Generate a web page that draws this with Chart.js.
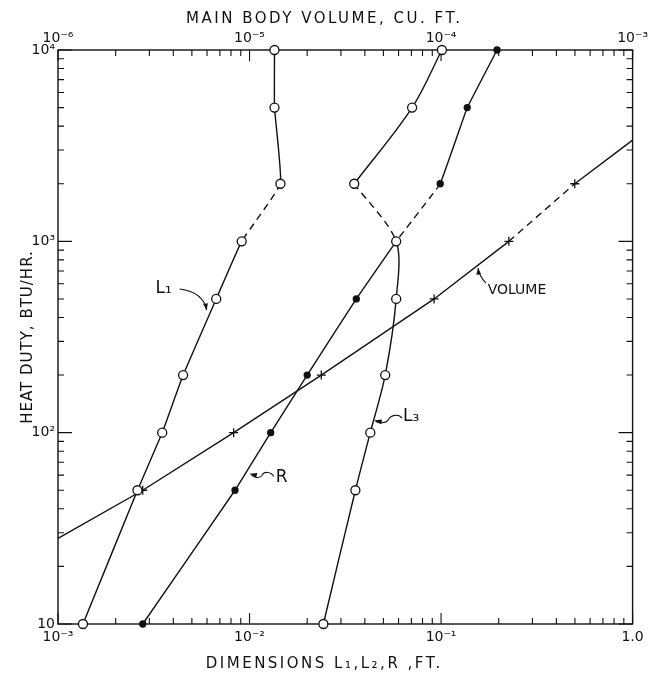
<!DOCTYPE html>
<html>
<head>
<meta charset="utf-8">
<script src="https://cdn.jsdelivr.net/npm/chart.js@4.4.0/dist/chart.umd.min.js"></script>
<style>
    html, body { margin: 0; padding: 0; background: #fff; }
    #wrap { width: 651px; height: 676px; }
</style>
</head>
<body>
<div id="wrap"><canvas id="heatChart"></canvas></div>
<script>
// heat duty levels (BTU/hr) that the dimension curves were computed at
const dutyLevels = [10000, 5000, 2000, 1000, 500, 200, 100, 50, 10];
const l1Dim = [0.0135, 0.0135, 0.0145, 0.0091, 0.0067, 0.0045, 0.0035, 0.0026, 0.00135];
const rDim = [0.196, 0.137, 0.099, 0.0583, 0.0361, 0.0200, 0.0129, 0.0084, 0.00277];
// upper branch (L2) ends at 2000; L3 starts from that same point and runs down
const l2Duty = [10000, 5000, 2000];
const l2Dim = [0.101, 0.0706, 0.0352];
const l3Duty = [2000, 1000, 500, 200, 100, 50, 10];
const l3Dim = [0.0352, 0.0583, 0.0583, 0.0511, 0.0427, 0.0357, 0.0243];
// volume is read on the top axis; first/last entries = where the line meets the frame
const volDuty = [28, 50, 100, 200, 500, 1000, 2000, 3380];
const volCuFt = [1e-6, 2.77e-6, 8.26e-6, 2.37e-5, 9.2e-5, 2.26e-4, 4.99e-4, 1e-3];

const yTicks = [10, 100, 1000, 10000];
const yTickLabels = ['10', '10²', '10³', '10⁴'];
const xTicks = [0.001, 0.01, 0.1, 1];
const xTickLabels = ['10⁻³', '10⁻²', '10⁻¹', '1.0'];
const x2Ticks = [1e-6, 1e-5, 1e-4, 1e-3];
const x2TickLabels = ['10⁻⁶', '10⁻⁵', '10⁻⁴', '10⁻³'];

const INK = '#111';
const tickFont = { family: 'DejaVu Sans', size: 14 };

// dashed piece of a curve between two duty levels
function dashedBetween(a, b) {
    return ctx => {
        const y0 = ctx.p0.parsed.y, y1 = ctx.p1.parsed.y;
        return ((y0 === a && y1 === b) || (y0 === b && y1 === a)) ? [7, 5] : undefined;
    };
}

function logSteps(min, max) {
    const out = [];
    for (let e = Math.round(Math.log10(min)); e < Math.round(Math.log10(max)); e++) {
        for (let k = 1; k < 10; k++) out.push({ v: k * Math.pow(10, e), major: k === 1 });
    }
    out.push({ v: max, major: true });
    return out;
}

// frame + inward log ticks on all four sides
const frameTicks = {
    id: 'frameTicks',
    beforeDatasetsDraw(chart) {
        const { ctx, chartArea: a, scales } = chart;
        ctx.save();
        ctx.strokeStyle = INK;
        ctx.lineWidth = 1.4;
        ctx.strokeRect(a.left, a.top, a.right - a.left, a.bottom - a.top);
        ctx.lineWidth = 1.1;
        ctx.beginPath();
        logSteps(10, 10000).forEach(t => {
            const py = scales.y.getPixelForValue(t.v);
            const len = t.major ? 14 : 6;
            ctx.moveTo(a.left, py); ctx.lineTo(a.left + len, py);
            ctx.moveTo(a.right, py); ctx.lineTo(a.right - len, py);
        });
        logSteps(0.001, 1).forEach(t => {
            const px = scales.x.getPixelForValue(t.v);
            ctx.moveTo(px, a.bottom); ctx.lineTo(px, a.bottom - (t.major ? 11 : 6));
        });
        logSteps(1e-6, 1e-3).forEach(t => {
            const px = scales.x2.getPixelForValue(t.v);
            ctx.moveTo(px, a.top); ctx.lineTo(px, a.top + (t.major ? 11 : 6));
        });
        ctx.stroke();
        ctx.restore();
    }
};

function arrowHead(ctx, fromX, fromY, toX, toY) {
    const ang = Math.atan2(toY - fromY, toX - fromX);
    ctx.beginPath();
    ctx.moveTo(toX, toY);
    ctx.lineTo(toX - 7 * Math.cos(ang - 0.35), toY - 7 * Math.sin(ang - 0.35));
    ctx.lineTo(toX - 7 * Math.cos(ang + 0.35), toY - 7 * Math.sin(ang + 0.35));
    ctx.closePath();
    ctx.fill();
}

function squiggle(ctx, x0, y0, x1, y1) {
    const mx = (x0 + x1) / 2, my = (y0 + y1) / 2;
    ctx.beginPath();
    ctx.moveTo(x0, y0);
    ctx.bezierCurveTo(x0 - 3, y0 - 5, mx + 2, my - 4, mx, my);
    ctx.bezierCurveTo(mx - 2, my + 4, x1 + 3, y1 + 4, x1, y1);
    ctx.stroke();
    arrowHead(ctx, x1 + 4, y1 + 1, x1, y1);
}

// curve names, pointer arrows and axis titles
const annotations = {
    id: 'annotations',
    afterDraw(chart) {
        const { ctx, chartArea: a, scales } = chart;
        const X = v => scales.x.getPixelForValue(v);
        const Y = v => scales.y.getPixelForValue(v);
        ctx.save();
        ctx.fillStyle = INK;
        ctx.strokeStyle = INK;
        ctx.lineWidth = 1.1;
        ctx.textAlign = 'center';
        ctx.textBaseline = 'middle';

        ctx.font = '17px "DejaVu Sans"';
        ctx.fillText('L₁', X(0.00356), Y(564));
        ctx.fillText('R', X(0.0147), Y(58));
        ctx.fillText('L₃', X(0.0698), Y(121));
        ctx.font = '14px "DejaVu Sans"';
        ctx.fillText('VOLUME', X(0.249), Y(556));

        // L1 curved arrow
        ctx.beginPath();
        ctx.moveTo(X(0.00431), Y(564));
        ctx.quadraticCurveTo(X(0.00575), Y(543), X(0.00597), Y(437));
        ctx.stroke();
        arrowHead(ctx, X(0.0059), Y(470), X(0.00597), Y(437));

        squiggle(ctx, X(0.0134), Y(59), X(0.0101), Y(61));
        squiggle(ctx, X(0.0625), Y(119), X(0.0453), Y(116));

        // VOLUME pointer
        ctx.beginPath();
        ctx.moveTo(X(0.1716), Y(605));
        ctx.quadraticCurveTo(X(0.158), Y(659), X(0.156), Y(725));
        ctx.stroke();
        arrowHead(ctx, X(0.157), Y(680), X(0.156), Y(725));

        // axis titles
        ctx.font = '15px "DejaVu Sans"';
        ctx.letterSpacing = '2.5px';
        const cx = (a.left + a.right) / 2 - 21;
        ctx.fillText('MAIN BODY VOLUME, CU. FT.', cx, 19);
        ctx.fillText('DIMENSIONS L₁,L₂,R ,FT.', cx, 664);
        ctx.letterSpacing = '1px';
        ctx.translate(28, (a.top + a.bottom) / 2);
        ctx.rotate(-Math.PI / 2);
        ctx.fillText('HEAT DUTY, BTU/HR.', 0, 0);
        ctx.restore();
    }
};

function createChart() {
    const ctx = document.getElementById('heatChart');
    const common = {
        borderColor: INK,
        borderWidth: 1.4,
        pointBorderColor: INK,
        pointBorderWidth: 1.3,
        pointHoverRadius: 0,
        clip: false
    };
    new Chart(ctx, {
        type: 'line',
        data: {
            datasets: [
                {
                    ...common,
                    label: 'L2',
                    data: l2Duty.map((y, i) => ({ x: l2Dim[i], y })),
                    pointRadius: 4.5,
                    pointBackgroundColor: '#fff',
                    tension: 0.35
                },
                {
                    ...common,
                    label: 'L3',
                    data: l3Duty.map((y, i) => ({ x: l3Dim[i], y })),
                    pointRadius: c => c.dataIndex === 0 ? 0 : 4.5,
                    pointBackgroundColor: '#fff',
                    tension: 0.3,
                    segment: { borderDash: dashedBetween(2000, 1000) }
                },
                {
                    ...common,
                    label: 'L1',
                    data: dutyLevels.map((y, i) => ({ x: l1Dim[i], y })),
                    pointRadius: 4.5,
                    pointBackgroundColor: '#fff',
                    tension: 0.1,
                    segment: { borderDash: dashedBetween(2000, 1000) }
                },
                {
                    ...common,
                    label: 'R',
                    data: dutyLevels.map((y, i) => ({ x: rDim[i], y })),
                    pointRadius: c => (c.raw && c.raw.y === 1000) ? 0 : 3,
                    pointBackgroundColor: INK,
                    tension: 0.05,
                    segment: { borderDash: dashedBetween(2000, 1000) }
                },
                {
                    ...common,
                    label: 'Volume',
                    xAxisID: 'x2',
                    data: volDuty.map((y, i) => ({ x: volCuFt[i], y })),
                    pointStyle: 'cross',
                    pointRadius: c => (c.dataIndex === 0 || c.dataIndex === volDuty.length - 1) ? 0 : 4.5,
                    tension: 0,
                    segment: { borderDash: dashedBetween(1000, 2000) }
                }
            ]
        },
        options: {
            responsive: true,
            maintainAspectRatio: false,
            animation: false,
            layout: { padding: { left: 0, right: 17, top: 0, bottom: 0 } },
            scales: {
                x: {
                    type: 'logarithmic',
                    position: 'bottom',
                    min: 0.001, max: 1,
                    grid: { display: false, drawTicks: false },
                    border: { display: false },
                    afterBuildTicks: s => { s.ticks = xTicks.map(v => ({ value: v })); },
                    afterFit: s => { s.height = 52; },
                    ticks: {
                        callback: (v, i) => xTickLabels[i],
                        font: tickFont, color: INK, padding: 5,
                        maxRotation: 0, autoSkip: false
                    }
                },
                x2: {
                    type: 'logarithmic',
                    position: 'top',
                    min: 1e-6, max: 1e-3,
                    grid: { display: false, drawTicks: false },
                    border: { display: false },
                    afterBuildTicks: s => { s.ticks = x2Ticks.map(v => ({ value: v })); },
                    afterFit: s => { s.height = 50; },
                    ticks: {
                        callback: (v, i) => x2TickLabels[i],
                        font: tickFont, color: INK, padding: 3,
                        maxRotation: 0, autoSkip: false
                    }
                },
                y: {
                    type: 'logarithmic',
                    position: 'left',
                    min: 10, max: 10000,
                    grid: { display: false, drawTicks: false },
                    border: { display: false },
                    afterBuildTicks: s => { s.ticks = yTicks.map(v => ({ value: v })); },
                    afterFit: s => { s.width = 58; },
                    ticks: {
                        callback: (v, i) => yTickLabels[i],
                        font: tickFont, color: INK, padding: 3,
                        autoSkip: false
                    }
                }
            },
            plugins: {
                legend: { display: false },
                tooltip: { enabled: false }
            }
        },
        plugins: [frameTicks, annotations]
    });
}

createChart();
</script>
</body>
</html>
